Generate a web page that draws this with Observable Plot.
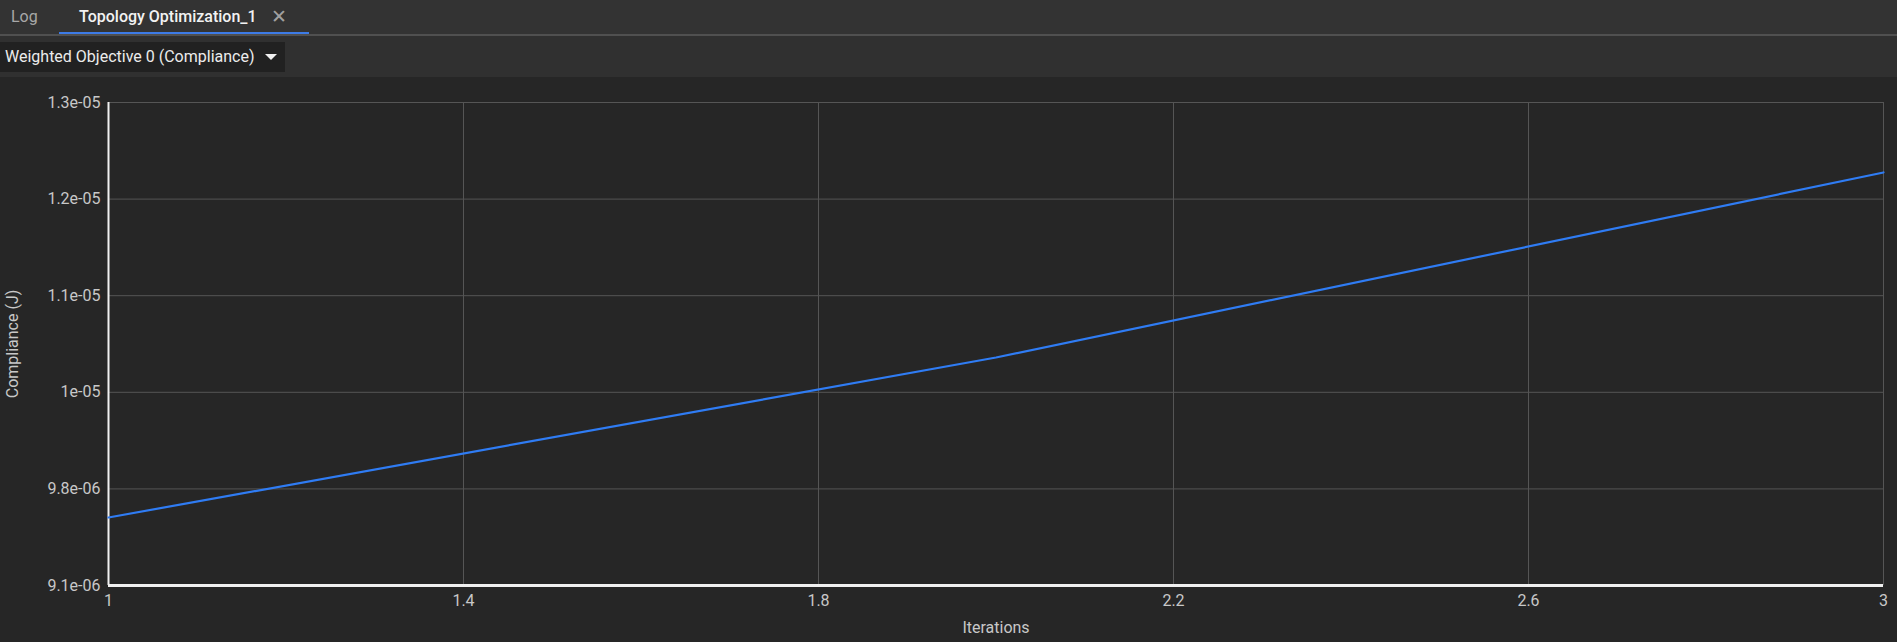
<!DOCTYPE html>
<html>
<head>
<meta charset="utf-8">
<script src="https://cdn.jsdelivr.net/npm/d3@7"></script>
<script src="https://cdn.jsdelivr.net/npm/@observablehq/plot@0.6"></script>
<style>
  html, body { margin: 0; padding: 0; background: #262626; width: 1897px; height: 642px; overflow: hidden; font-family: Roboto, "Noto Sans", sans-serif; }
  .tabbar { position: relative; height: 34px; background: #333333; border-bottom: 2px solid #505050; }
  .tab { position: absolute; top: 0; height: 34px; line-height: 34px; font-size: 16px; }
  .tab.log { left: 11px; color: #a8a8a8; }
  .tab.active { left: 59px; width: 250px; color: #f2f2f2; font-weight: 500; }
  .tab.active .name { position: absolute; left: 20px; }
  .tab.active .close { position: absolute; left: 212px; color: #a0a0a0; font-size: 19px; font-weight: 400; }
  .tab.active .ul { position: absolute; left: 0; right: 0; bottom: 0; height: 2px; background: #3d7be6; }
  .subbar { position: relative; height: 41px; background: #303030; }
  .dropdown { position: absolute; left: 0; top: 6px; width: 285px; height: 30px; background: #212121; color: #ececec; font-size: 16px; line-height: 30px; }
  .dropdown .t { position: absolute; left: 5px; }
  .dropdown .arrow { position: absolute; left: 265px; top: 12px; width: 0; height: 0; border-left: 6px solid transparent; border-right: 6px solid transparent; border-top: 6px solid #f0f0f0; }
  #chart svg { display: block; }
</style>
</head>
<body>
<div class="tabbar">
  <div class="tab log">Log</div>
  <div class="tab active"><span class="name">Topology Optimization_1</span><span class="close">✕</span><div class="ul"></div></div>
</div>
<div class="subbar">
  <div class="dropdown"><span class="t">Weighted Objective 0 (Compliance)</span><span class="arrow"></span></div>
</div>
<div id="chart"></div>
<script>
// Data
const iterations = [1, 2, 3];
const compliance = [9.649e-06, 1.0941e-05, 1.2435e-05];

// Axis ticks
const xTicks = [1, 1.4, 1.8, 2.2, 2.6, 3];
const xTickLabels = ["1", "1.4", "1.8", "2.2", "2.6", "3"];
const yTicks = [9.1e-06, 9.88e-06, 1.066e-05, 1.144e-05, 1.222e-05, 1.3e-05];
const yTickLabels = ["9.1e-06", "9.8e-06", "1e-05", "1.1e-05", "1.2e-05", "1.3e-05"];

const data = iterations.map((x, i) => ({x, y: compliance[i]}));
const yMin = yTicks[0], yMax = yTicks[yTicks.length - 1];

const chart = Plot.plot({
  width: 1897,
  height: 565,
  marginTop: 25,
  marginBottom: 57,
  marginLeft: 108,
  marginRight: 14,
  style: { background: "#262626", color: "#cccccc", fontFamily: "Roboto, sans-serif", fontSize: "16px" },
  x: { domain: [1, 3] },
  y: { domain: [yMin, yMax] },
  marks: [
    Plot.gridX(xTicks, { stroke: "#555555", strokeOpacity: 1, strokeWidth: 1 }),
    Plot.gridY(yTicks, { stroke: "#555555", strokeOpacity: 1, strokeWidth: 1 }),
    Plot.axisX(xTicks, {
      tickSize: 0, tickPadding: 9, fontSize: 16, fill: "#c8c8c8",
      tickFormat: (d) => xTickLabels[xTicks.indexOf(d)],
      label: "Iterations", labelAnchor: "center", labelArrow: "none", labelOffset: 47
    }),
    Plot.axisY(yTicks, {
      tickSize: 0, tickPadding: 8, fontSize: 16, fill: "#c8c8c8",
      tickFormat: (d) => yTickLabels[yTicks.indexOf(d)],
      label: "Compliance (J)", labelAnchor: "center", labelArrow: "none", labelOffset: 102
    }),
    Plot.ruleX([1], { stroke: "#f0f0f0", strokeWidth: 2 }),
    Plot.ruleY([yMin], { stroke: "#f0f0f0", strokeWidth: 3 }),
    Plot.line(data, { x: "x", y: "y", stroke: "#2f7cf4", strokeWidth: 2.2 })
  ]
});
document.getElementById("chart").appendChild(chart);
</script>
</body>
</html>
